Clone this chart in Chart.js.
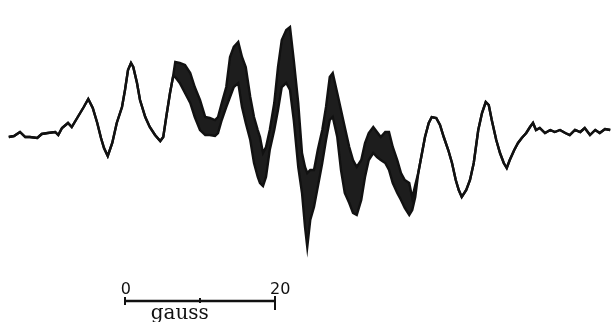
<!DOCTYPE html>
<html>
<head>
<meta charset="utf-8">
<script src="https://cdn.jsdelivr.net/npm/chart.js@4/dist/chart.umd.min.js"></script>
<style>
  html, body { margin: 0; padding: 0; background: #fff; }
  #wrap { width: 611px; height: 322px; }
</style>
</head>
<body>
<div id="wrap"><canvas id="spectrum" width="611" height="322"></canvas></div>
<script>
// field position in gauss (0 at left end of scale bar)
const field = [
  -15.5, -14.8, -14.0, -13.3, -12.7, -11.7, -11.1, -10.3, -9.3, -8.9,
  -8.4, -7.6, -7.1, -6.3, -5.5, -4.9, -4.3, -3.7, -3.2, -2.8,
  -2.3, -1.7, -1.1, -0.4, 0, 0.4, 0.8, 1.1, 1.6, 2.0,
  2.7, 3.3, 4.0, 4.7, 5.1, 5.5, 6.0, 6.4,
  6.7, 7.3, 8.0, 8.7, 9.3, 10.0, 10.7, 11.3, 12.0, 12.4,
  12.9, 13.5, 14.0, 14.5, 15.1, 15.6, 16.1, 16.7, 17.2, 17.7,
  18.0, 18.4, 18.8, 19.3, 19.9, 20.4, 20.9, 21.5, 22.0, 22.5,
  23.1, 23.6, 24.0, 24.3, 24.7, 25.2, 25.7, 26.3, 26.8, 27.3,
  27.7, 28.3, 28.8, 29.3, 29.9, 30.4, 30.9, 31.5, 32.0, 32.5,
  33.1, 33.6, 34.1, 34.7, 35.2, 35.7, 36.3, 36.8, 37.3, 37.9,
  38.3, 38.7,
  39.1, 39.5, 40.0, 40.5, 40.9, 41.5, 42.0, 42.5, 43.1, 43.6,
  44.1, 44.5, 44.9, 45.5, 46.0, 46.5, 47.1, 47.6, 48.1, 48.5,
  48.9, 49.5, 50.0, 50.5, 50.9, 51.3, 51.9, 52.4, 52.9, 53.5,
  54.0, 54.4, 54.8, 55.3, 56.0, 56.7, 57.3, 58.0, 58.7, 59.3,
  60.0, 60.7, 61.3, 62.0, 62.7, 63.3, 64.0, 64.7
];

// upper edge of the recorder trace (noise envelope), arbitrary units
const traceHigh = [
  -5, -4, 0, -5, -5, -6, -2, -1, 0, -3,
  4, 9, 5, 15, 25, 33, 24, 9, -6, -16,
  -24, -11, 9, 25, 42, 62, 69, 65, 49, 32,
  15, 5, -3, -9, -5, 15, 39, 55,
  70, 69, 67, 59, 45, 32, 15, 14, 12, 15,
  29, 45, 75, 85, 90, 75, 65, 35, 15, 2,
  -5, -21, -15, 2, 29, 65, 92, 102, 105, 72,
  29, -21, -35, -41, -38, -38, -18, 2, 25, 55,
  59, 39, 22, 5, -15, -28, -35, -28, -11, -1,
  5, 0, -5, 0, 0, -15, -28, -41, -48, -51,
  -66, -53,
  -41, -25, -5, 9, 15, 14, 7, -5, -18, -31,
  -48, -58, -65, -58, -48, -31, 2, 19, 30, 27,
  12, -8, -21, -31, -36, -28, -18, -11, -6, -1,
  5, 9, 2, 4, -1, 2, 0, 2, -1, -3,
  2, 0, 4, -3, 2, -1, 3, 2
];

// lower edge of the trace
const traceLow = [
  -5, -4, 0, -5, -5, -6, -2, -1, 0, -3,
  4, 9, 5, 15, 25, 33, 24, 9, -6, -16,
  -24, -11, 9, 25, 42, 62, 69, 65, 49, 32,
  15, 5, -3, -9, -5, 15, 39, 55,
  55, 49, 39, 29, 15, 2, -3, -3, -4, -1,
  12, 25, 35, 45, 49, 25, 9, -8, -31, -45,
  -51, -54, -45, -18, 2, 22, 45, 49, 42, 12,
  -35, -61, -95, -115, -88, -75, -55, -31, -8, 12,
  15, -5, -38, -61, -71, -81, -83, -68, -45, -28,
  -21, -25, -28, -31, -38, -51, -61, -68, -76, -83,
  -78, -65,
  -41, -25, -5, 9, 15, 14, 7, -5, -18, -31,
  -48, -58, -65, -58, -48, -31, 2, 19, 30, 27,
  12, -8, -21, -31, -36, -28, -18, -11, -6, -1,
  5, 9, 2, 4, -1, 2, 0, 2, -1, -3,
  2, 0, 4, -3, 2, -1, 3, 2
];

// scale bar: 0 to 20 gauss
const barField = [0, 20];
const barLevel = -169;
const barTicks = [
  { g: 0, from: -165, to: -173 },
  { g: 10, from: -166, to: -171 },
  { g: 20, from: -164, to: -178 }
];
const barLabels = [
  { text: '0', g: 0.1, y: -158, font: '16px "DejaVu Sans"' },
  { text: '20', g: 20.7, y: -158, font: '16px "DejaVu Sans"' },
  { text: 'gauss', g: 7.3, y: -182, font: '20px "DejaVu Serif"' }
];

const toPoints = (xs, ys) => xs.map((x, i) => ({ x: x, y: ys[i] }));

const datasets = [
  {
    data: toPoints(field, traceLow),
    borderColor: '#111',
    borderWidth: 2.4,
    pointRadius: 0,
    tension: 0,
    fill: false
  },
  {
    data: toPoints(field, traceHigh),
    borderColor: '#111',
    backgroundColor: 'rgba(10,10,10,0.92)',
    borderWidth: 2.4,
    pointRadius: 0,
    tension: 0,
    fill: '-1'
  },
  {
    data: barField.map(g => ({ x: g, y: barLevel })),
    borderColor: '#111',
    borderWidth: 2.5,
    pointRadius: 0,
    fill: false
  }
];

barTicks.forEach(t => {
  datasets.push({
    data: [{ x: t.g, y: t.from }, { x: t.g, y: t.to }],
    borderColor: '#111',
    borderWidth: 2,
    pointRadius: 0,
    fill: false
  });
});

// labels of the scale bar, placed through the chart scales
const barText = {
  id: 'barText',
  afterDatasetsDraw(chart) {
    const ctx = chart.ctx;
    const xs = chart.scales.x, ys = chart.scales.y;
    ctx.save();
    ctx.fillStyle = '#111';
    ctx.textAlign = 'center';
    ctx.textBaseline = 'middle';
    barLabels.forEach(l => {
      ctx.font = l.font;
      ctx.fillText(l.text, xs.getPixelForValue(l.g), ys.getPixelForValue(l.y));
    });
    ctx.restore();
  }
};

new Chart(document.getElementById('spectrum'), {
  type: 'line',
  data: { datasets: datasets },
  options: {
    responsive: false,
    animation: false,
    layout: { padding: 0 },
    plugins: { legend: { display: false }, tooltip: { enabled: false } },
    scales: {
      x: { type: 'linear', min: -16.667, max: 64.8, display: false },
      y: { min: -190, max: 132, display: false }
    }
  },
  plugins: [barText]
});
</script>
</body>
</html>
